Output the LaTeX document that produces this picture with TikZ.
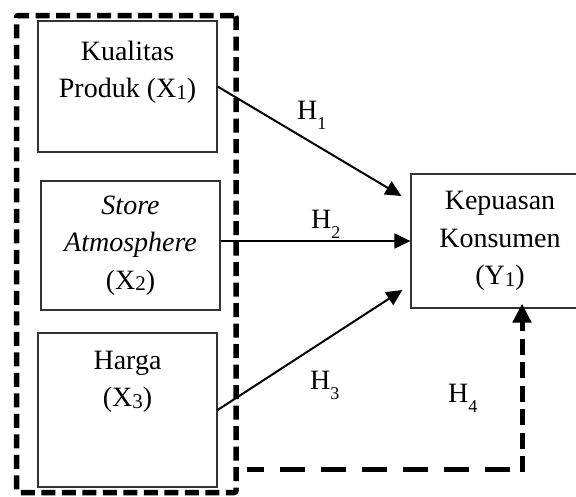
\documentclass[tikz,border=0pt]{standalone}
\usepackage{fontspec}
\setmainfont{Liberation Serif}
\usetikzlibrary{arrows.meta,calc}

% subscript inside the variable boxes, and the deeper one of the H labels
\newcommand{\varsub}[1]{\raisebox{-1.5pt}{\fontsize{21}{21}\selectfont #1}}
\newcommand{\hypsub}[1]{\raisebox{-10pt}{\fontsize{18}{18}\selectfont #1}}

\tikzset{
  varbox/.style={draw=black!80, line width=1.2pt, rectangle, inner sep=0pt, align=center},
  boxtext/.style={inner sep=0pt, align=center},
  grpbox/.style={draw=black, line width=5.5pt, dash pattern=on 14pt off 6.5pt,
                 rounded corners=2pt, rectangle, inner sep=0pt},
  effect/.style={line width=2pt, -{Triangle[length=16pt,width=15pt]}},
  hyp/.style={inner sep=0pt, anchor=base west},
  moderation/.style={line width=5pt},
}

\begin{document}
\begin{tikzpicture}[x=1pt, y=-1pt, font=\fontsize{28}{37.5}\selectfont]
\useasboundingbox (0,0) rectangle (576,496);

% group of independent variables
\node[grpbox, minimum width=219.5pt, minimum height=477pt] (grp) at (126.25,254) {};

% independent variables
\node[varbox, minimum width=179pt, minimum height=131pt] (x1) at (127.5,86.5) {};
\node[boxtext, anchor=north] (t1) at ([yshift=-20pt]x1.north) {Kualitas\\Produk (X\varsub{1})};

\node[varbox, minimum width=179pt, minimum height=129pt] (x2) at (130.5,245.5)
  {\textit{Store}\\\textit{Atmosphere}\\(X\varsub{2})};

\node[varbox, minimum width=179pt, minimum height=154pt] (x3) at (127.5,410) {};
\node[boxtext, anchor=north] (t3) at ([yshift=-18.5pt]x3.north) {Harga\\(X\varsub{3})};

% dependent variable
\node[varbox, minimum width=178pt, minimum height=134pt] (y) at (500,241)
  {Kepuasan\\Konsumen\\(Y\varsub{1})};

% direct effects
\draw[effect] (x1.east) -- ([shift={(-9,-45)}]y.west);
\draw[effect] (x2.east |- y.west) -- (y.west);
\draw[effect] (x3.east) -- ([shift={(-8,49)}]y.west);

% simultaneous effect
\coordinate (c) at (522,469);
\draw[moderation, dash pattern=on 25pt off 16pt, dash phase=29pt, shorten >=8pt]
  (c) -- (grp.east |- c);
\draw[moderation, dash pattern=on 16pt off 7.5pt, shorten <=-3pt, shorten >=-5pt,
      -{Triangle[length=19pt,width=18pt]}]
  (c) -- (y.south -| c);

% hypothesis labels
\node[hyp] (h1) at (297,119) {H\hypsub{1}};
\node[hyp] (h2) at (311,228) {H\hypsub{2}};
\node[hyp] (h3) at (310,389) {H\hypsub{3}};
\node[hyp] (h4) at (448,402) {H\hypsub{4}};
\end{tikzpicture}
\end{document}
